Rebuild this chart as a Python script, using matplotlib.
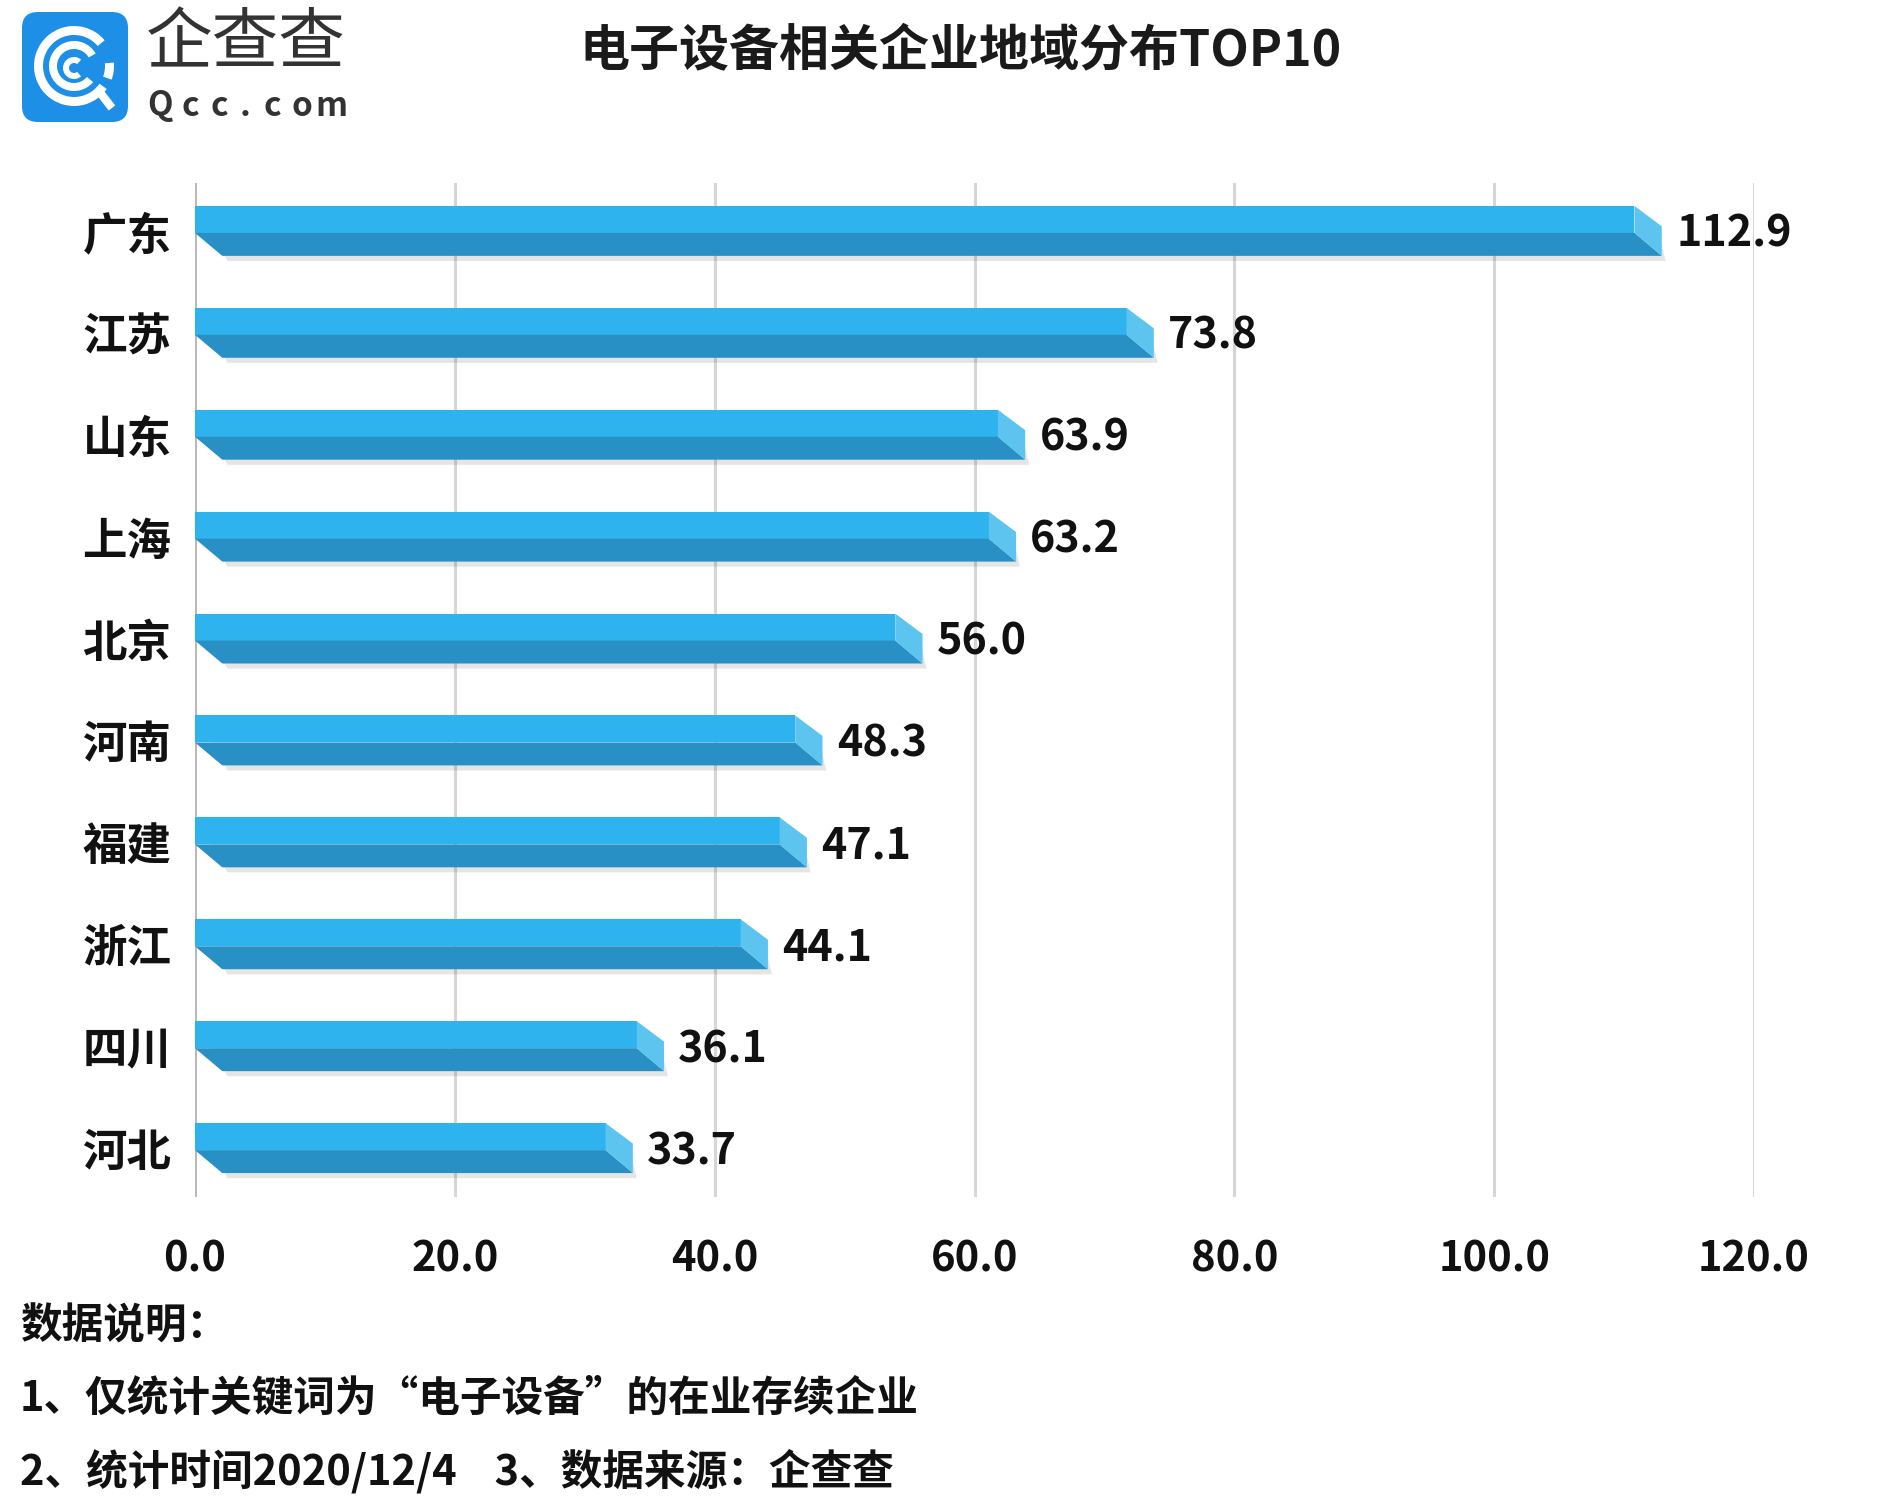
import matplotlib
matplotlib.use('Agg')
import matplotlib.pyplot as plt
from matplotlib.patches import Polygon, FancyBboxPatch, Wedge

plt.rcParams['font.family'] = ['Noto Sans CJK SC', 'DejaVu Sans']

# data
regions = ['广东', '江苏', '山东', '上海', '北京', '河南', '福建', '浙江', '四川', '河北']
values = [112.9, 73.8, 63.9, 63.2, 56.0, 48.3, 47.1, 44.1, 36.1, 33.7]
x_ticks = [0, 20, 40, 60, 80, 100, 120]
title = '电子设备相关企业地域分布TOP10'
notes = ['数据说明：',
         '1、仅统计关键词为“电子设备”的在业存续企业',
         '2、统计时间2020/12/4    3、数据来源：企查查']

W, H = 1877, 1498
fig = plt.figure(figsize=(W / 100, H / 100), dpi=100)
fig.patch.set_facecolor('white')

ax = fig.add_axes([195 / W, 1 - 1197 / H, (1754 - 195) / W, (1197 - 183) / H])
ax.set_xlim(0, 120)
ax.set_ylim(9.48, -0.47)

top_col = '#2eb3ef'
side_col = '#2890c4'
cap_col = '#5cc4ef'
h = 0.245
dx = 2.1

for i, v in enumerate(values):
    # soft shadow
    ax.add_patch(Polygon([(dx * 0.6, i + 0.02), (v - 0.2, i + 0.02), (v + 0.3, i + h + 0.05),
                          (dx + 0.4, i + h + 0.05)], closed=True, color='#000000',
                         alpha=0.10, lw=0, zorder=2))
    # top face
    ax.add_patch(Polygon([(0, i - h), (v - dx, i - h), (v - dx, i + 0.02), (0, i + 0.02)],
                         closed=True, color=top_col, lw=0, zorder=3))
    # front face
    ax.add_patch(Polygon([(0, i + 0.02), (v - dx, i + 0.02), (v, i + h), (dx, i + h)],
                         closed=True, color=side_col, lw=0, zorder=3))
    # end cap
    ax.add_patch(Polygon([(v - dx, i - h), (v, i - h + 0.2), (v, i + h), (v - dx, i + 0.02)],
                         closed=True, color=cap_col, lw=0, zorder=3))
    ax.text(v + 1.1, i + 0.03, f'{v:.1f}', va='center', ha='left', fontsize=31,
            fontweight='bold', color='#111111', zorder=4)

for t in x_ticks:
    ax.axvline(t, color='#b8b8b8' if t == 0 else '#d6d6d6', lw=2.2, zorder=1)

ax.set_xticks(x_ticks)
ax.set_xticklabels([f'{t:.1f}' for t in x_ticks], fontsize=30, fontweight='bold', color='#111111')
ax.set_yticks(range(len(regions)))
ax.set_yticklabels(regions, fontsize=32, fontweight='bold', color='#111111')
ax.tick_params(axis='x', length=0, pad=30)
ax.tick_params(axis='y', length=0, pad=17)
for s in ax.spines.values():
    s.set_visible(False)

# title
fig.text(961 / W, 1 - 52 / H, title, ha='center', va='center', fontsize=36,
         fontweight='bold', color='#1a1a1a')

# notes
for line, y in zip(notes, [1327, 1399, 1471]):
    fig.text(20 / W, 1 - y / H, line, ha='left', va='center', fontsize=30,
             fontweight='bold', color='#111111')

# logo
lax = fig.add_axes([18 / W, 1 - 126 / H, 114 / W, 118 / H])
lax.set_xlim(0, 114)
lax.set_ylim(118, 0)
lax.axis('off')
lax.add_patch(FancyBboxPatch((4, 4), 106, 110, boxstyle='round,pad=0,rounding_size=16',
                             color='#1e8fe6', lw=0))
cx, cy = 56, 58
lax.add_patch(Wedge((cx, cy), 40, 35, 320, width=9, color='white', lw=0))
lax.add_patch(Wedge((cx, cy), 40, -5, 20, width=9, color='white', lw=0))
lax.plot([cx + 24, cx + 38], [cy + 24, cy + 42], color='white', lw=6, solid_capstyle='butt')
lax.add_patch(Wedge((cx, cy), 25, 40, 330, width=8, color='white', lw=0))
lax.add_patch(Wedge((cx, cy + 2), 11, 50, 310, width=6, color='white', lw=0))

fig.text(146 / W, 1 - 45 / H, '企查查', ha='left', va='center', fontsize=48,
         fontweight='light', color='#333333')
for c, xc in zip('Qcc.com', [160, 190, 219, 245, 272, 302, 331]):
    fig.text(xc / W, 1 - 106 / H, c, ha='center', va='center', fontsize=24,
             fontweight='bold', color='#333333')

fig.savefig('out.png', dpi=100)
